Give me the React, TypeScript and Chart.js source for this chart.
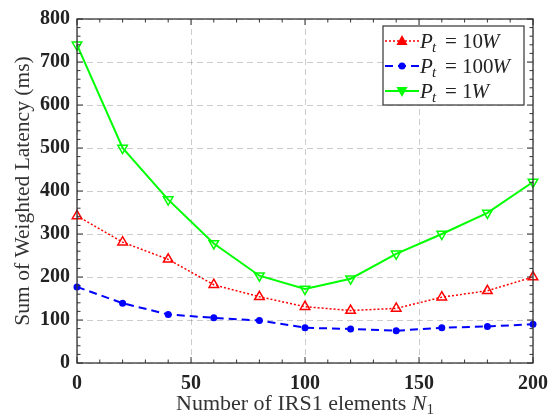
import React, { useEffect, useRef } from "react";
import { Chart, registerables } from "chart.js";
Chart.register(...registerables);

const xValues = [0, 20, 40, 60, 80, 100, 120, 140, 160, 180, 200];
const pt10W = [342, 281, 241, 182, 154, 131, 122, 127, 153, 168, 200];
const pt100W = [177, 139, 113, 105, 99, 82, 79, 75, 82, 85, 90];
const pt1W = [740, 500, 380, 278, 203, 172, 196, 254, 300, 349, 421];
const xTicks = [0, 50, 100, 150, 200];
const yTicks = [0, 100, 200, 300, 400, 500, 600, 700, 800];
const legendLabels = ["10", "100", "1"];
const yTitle = "Sum of Weighted Latency (ms)";
const xTitle = "Number of IRS1 elements ";

const SERIF = "'Liberation Serif', 'DejaVu Serif', serif";
const RED = "#ff0000";
const BLUE = "#0000ff";
const GREEN = "#00ff00";

function drawMarker(ctx: CanvasRenderingContext2D, kind: string, x: number, y: number, color: string) {
  ctx.save();
  ctx.setLineDash([]);
  ctx.strokeStyle = color;
  ctx.fillStyle = color;
  ctx.lineWidth = 1.5;
  const r = 4.5;
  if (kind === "up") {
    ctx.beginPath();
    ctx.moveTo(x, y - r);
    ctx.lineTo(x + r * 0.95, y + r * 0.7);
    ctx.lineTo(x - r * 0.95, y + r * 0.7);
    ctx.closePath();
    ctx.fill();
    ctx.stroke();
  } else if (kind === "down") {
    ctx.beginPath();
    ctx.moveTo(x, y + r);
    ctx.lineTo(x + r * 0.95, y - r * 0.7);
    ctx.lineTo(x - r * 0.95, y - r * 0.7);
    ctx.closePath();
    ctx.fill();
    ctx.stroke();
  } else {
    ctx.beginPath();
    ctx.arc(x, y, 3.5, 0, Math.PI * 2);
    ctx.fill();
  }
  ctx.restore();
}

const framePlugin = {
  id: "frame",
  afterDraw(chart: any) {
    const { ctx, chartArea } = chart;
    const { left, right, top, bottom } = chartArea;
    const xs = chart.scales.x;
    const ys = chart.scales.y;
    ctx.save();
    ctx.strokeStyle = "#333333";
    ctx.lineWidth = 1.3;
    ctx.setLineDash([]);
    ctx.strokeRect(left, top, right - left, bottom - top);
    ctx.lineWidth = 1;
    ctx.beginPath();
    for (let v = 0; v <= 200; v += 10) {
      const px = xs.getPixelForValue(v);
      const len = v % 50 === 0 ? 6 : 3.5;
      ctx.moveTo(px, bottom);
      ctx.lineTo(px, bottom - len);
      ctx.moveTo(px, top);
      ctx.lineTo(px, top + len);
    }
    for (let v = 0; v <= 800; v += 20) {
      const py = ys.getPixelForValue(v);
      const len = v % 100 === 0 ? 6 : 3.5;
      ctx.moveTo(left, py);
      ctx.lineTo(left + len, py);
      ctx.moveTo(right, py);
      ctx.lineTo(right - len, py);
    }
    ctx.stroke();

    // x title
    ctx.fillStyle = "#333333";
    ctx.textBaseline = "alphabetic";
    const reg = `22px ${SERIF}`;
    const ital = `italic 22px ${SERIF}`;
    const sub = `15px ${SERIF}`;
    ctx.font = reg;
    const w1 = ctx.measureText(xTitle).width;
    ctx.font = ital;
    const w2 = ctx.measureText("N").width;
    ctx.font = sub;
    const w3 = ctx.measureText("1").width;
    const total = w1 + w2 + w3;
    let tx = (left + right) / 2 - total / 2;
    const ty = 410;
    ctx.font = reg;
    ctx.fillText(xTitle, tx, ty);
    tx += w1;
    ctx.font = ital;
    ctx.fillText("N", tx, ty);
    tx += w2;
    ctx.font = sub;
    ctx.fillText("1", tx, ty + 4);

    // legend
    const bx = right - 150;
    const by = top + 7;
    const bw = 141;
    const bh = 79;
    ctx.fillStyle = "#ffffff";
    ctx.fillRect(bx, by, bw, bh);
    ctx.strokeStyle = "#333333";
    ctx.lineWidth = 1.2;
    ctx.strokeRect(bx, by, bw, bh);
    const rows = [
      { color: RED, dash: [2, 2], marker: "up", lw: 1.5 },
      { color: BLUE, dash: [8, 5], marker: "dot", lw: 2 },
      { color: GREEN, dash: [], marker: "down", lw: 2 },
    ];
    rows.forEach((row, i) => {
      const ry = by + 15 + i * 25;
      ctx.save();
      ctx.strokeStyle = row.color;
      ctx.lineWidth = row.lw;
      ctx.setLineDash(row.dash);
      ctx.beginPath();
      ctx.moveTo(bx + 2, ry);
      ctx.lineTo(bx + 36, ry);
      ctx.stroke();
      ctx.restore();
      drawMarker(ctx, row.marker, bx + 19, ry, row.color);
      const base = ry + 7;
      ctx.fillStyle = "#222222";
      ctx.font = `italic 21px ${SERIF}`;
      ctx.fillText("P", bx + 37, base);
      ctx.font = `italic 15px ${SERIF}`;
      ctx.fillText("t", bx + 49, base + 4);
      ctx.font = `21px ${SERIF}`;
      ctx.fillText("=", bx + 62, base);
      const num = legendLabels[i];
      ctx.fillText(num, bx + 79, base);
      const nw = ctx.measureText(num).width;
      ctx.font = `italic 21px ${SERIF}`;
      ctx.fillText("W", bx + 79 + nw - 1, base);
    });
    ctx.restore();
  },
};

export default function App() {
  const ref = useRef<HTMLCanvasElement | null>(null);
  useEffect(() => {
    if (!ref.current) return;
    const mk = (data: number[]) => xValues.map((x, i) => ({ x, y: data[i] }));
    const chart = new Chart(ref.current, {
      type: "line",
      data: {
        datasets: [
          {
            label: "Pt = 10W",
            data: mk(pt10W),
            borderColor: RED,
            borderWidth: 1.5,
            borderDash: [2, 2],
            pointStyle: "triangle",
            pointRadius: 5.5,
            pointBorderWidth: 1.5,
            pointBorderColor: RED,
            pointBackgroundColor: "rgba(255,255,255,0)",
            clip: false,
          } as any,
          {
            label: "Pt = 100W",
            data: mk(pt100W),
            borderColor: BLUE,
            borderWidth: 2,
            borderDash: [8, 5],
            pointStyle: "circle",
            pointRadius: 3.5,
            pointBorderWidth: 0,
            pointBackgroundColor: BLUE,
            clip: false,
          } as any,
          {
            label: "Pt = 1W",
            data: mk(pt1W),
            borderColor: GREEN,
            borderWidth: 2,
            pointStyle: "triangle",
            pointRotation: 180,
            pointRadius: 5.5,
            pointBorderWidth: 1.5,
            pointBorderColor: GREEN,
            pointBackgroundColor: "rgba(255,255,255,0)",
            clip: false,
          } as any,
        ],
      },
      options: {
        animation: false,
        responsive: true,
        maintainAspectRatio: false,
        layout: { padding: { top: 15, right: 24, left: 0, bottom: 0 } },
        plugins: { legend: { display: false }, tooltip: { enabled: false } },
        elements: { line: { tension: 0 } },
        scales: {
          x: {
            type: "linear",
            min: 0,
            max: 200,
            afterBuildTicks: (s: any) => {
              s.ticks = xTicks.map((v) => ({ value: v }));
            },
            afterFit: (s: any) => {
              s.height = 52;
            },
            grid: { color: "rgba(0,0,0,0.2)", lineWidth: 1, drawTicks: false },
            border: { display: false, dash: [6, 4] },
            ticks: {
              padding: 9,
              color: "#222222",
              font: { family: SERIF, size: 20, weight: "bold" },
              maxRotation: 0,
            },
          },
          y: {
            type: "linear",
            min: 0,
            max: 800,
            afterBuildTicks: (s: any) => {
              s.ticks = yTicks.map((v) => ({ value: v }));
            },
            afterFit: (s: any) => {
              s.width = 77;
            },
            grid: { color: "rgba(0,0,0,0.2)", lineWidth: 1, drawTicks: false },
            border: { display: false, dash: [6, 4] },
            ticks: {
              padding: 7,
              color: "#222222",
              font: { family: SERIF, size: 20, weight: "bold" },
            },
            title: {
              display: true,
              text: yTitle,
              color: "#333333",
              font: { family: SERIF, size: 21.5 },
              padding: { top: 10, bottom: 0 },
            },
          },
        },
      } as any,
      plugins: [framePlugin],
    });
    return () => chart.destroy();
  }, []);
  return (
    <div style={{ position: "fixed", left: 0, top: 0, width: 557, height: 415, background: "#ffffff" }}>
      <canvas ref={ref} />
    </div>
  );
}
